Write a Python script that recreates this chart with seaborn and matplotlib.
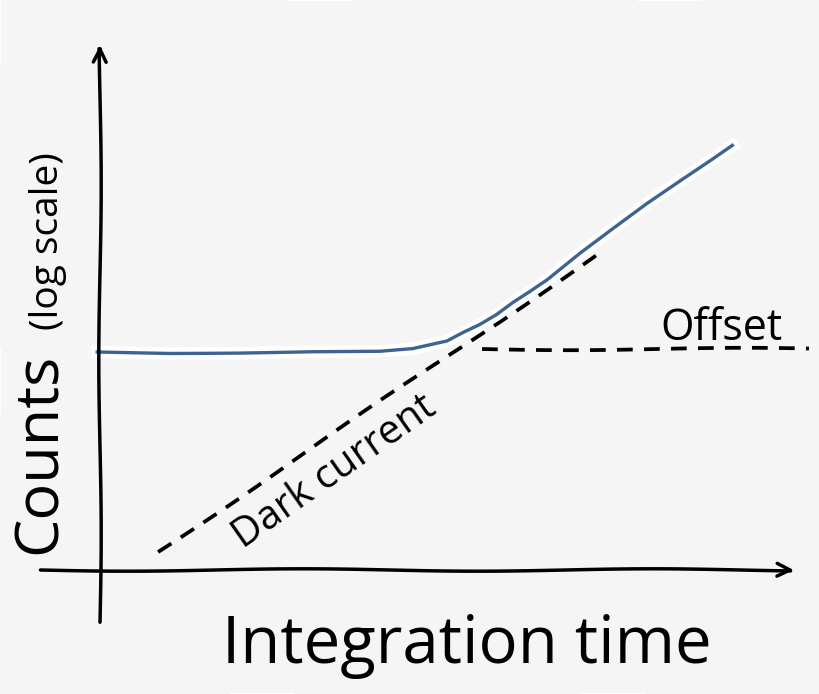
import numpy as np
import pandas as pd
import seaborn as sns
import matplotlib.pyplot as plt
import matplotlib.patheffects as pe

# values (x = integration time, y = log counts, arbitrary units)
signal_time = [-0.04, 1.0, 2.0, 3.0, 4.0, 4.47, 4.96, 5.19, 5.43, 5.67, 5.90,
               6.14, 6.39, 6.86, 7.33, 7.81, 8.29, 8.76, 9.03]
signal_counts = [4.36, 4.34, 4.35, 4.37, 4.37, 4.42, 4.57, 4.74, 4.90, 5.10, 5.34,
                 5.56, 5.80, 6.34, 6.84, 7.34, 7.80, 8.24, 8.50]
dark_time = [0.83, 7.1]
dark_counts = [0.36, 6.3]
offset_time = [5.46, 10.13]
offset_counts = [4.42, 4.42]

bg = '#f5f5f5'
blue = '#3f6391'

with plt.xkcd(scale=1.2, length=350, randomness=1):
    plt.rcParams['font.family'] = ['Open Sans', 'DejaVu Sans']
    plt.rcParams['path.effects'] = []

    fig = plt.figure(figsize=(8.2, 6.94), dpi=100, facecolor=bg)
    ax = fig.add_axes([0, 0, 1, 1])
    ax.set_facecolor(bg)
    ax.set_xlim(-1.4286, 10.2857)
    ax.set_ylim(-2.48, 11.4)
    ax.axis('off')

    # hand drawn axes
    ax.annotate('', xy=(0, 10.56), xytext=(0, -1.1),
                arrowprops=dict(arrowstyle='->', lw=2.5, color='black',
                                mutation_scale=24))
    ax.annotate('', xy=(9.96, 0), xytext=(-0.89, 0),
                arrowprops=dict(arrowstyle='->', lw=2.5, color='black',
                                mutation_scale=24))

    # asymptotes
    dash = (0, (4.2, 3.0))
    sns.lineplot(x=dark_time, y=dark_counts, ax=ax, color='black', lw=2.7,
                 linestyle=dash, sort=False, estimator=None)
    sns.lineplot(x=offset_time, y=offset_counts, ax=ax, color='black', lw=2.7,
                 linestyle=dash, sort=False, estimator=None)

    # measured signal, drawn with a gentler wobble
    sns.lineplot(x=signal_time, y=signal_counts, ax=ax, color=blue, lw=2.4,
                 sort=False, estimator=None,
                 path_effects=[pe.withStroke(linewidth=9, foreground='white')])
    ax.lines[-1].set_sketch_params(0.6, 500, 1)

    ax.text(-0.857, 2.34, 'Counts', rotation=90, ha='center', va='center',
            fontsize=44)
    ax.text(-0.743, 6.58, '(log scale)', rotation=90, ha='center',
            va='center', fontsize=28)
    ax.text(5.24, -1.86, 'Integration time', ha='center', va='baseline',
            fontsize=47)
    ax.text(8.0, 4.6, 'Offset', ha='left', va='baseline', fontsize=31)
    ax.text(3.357, 1.96, 'Dark current', rotation=35, ha='center',
            va='center', fontsize=29)

    fig.savefig('out.png', dpi=100, facecolor=bg)
